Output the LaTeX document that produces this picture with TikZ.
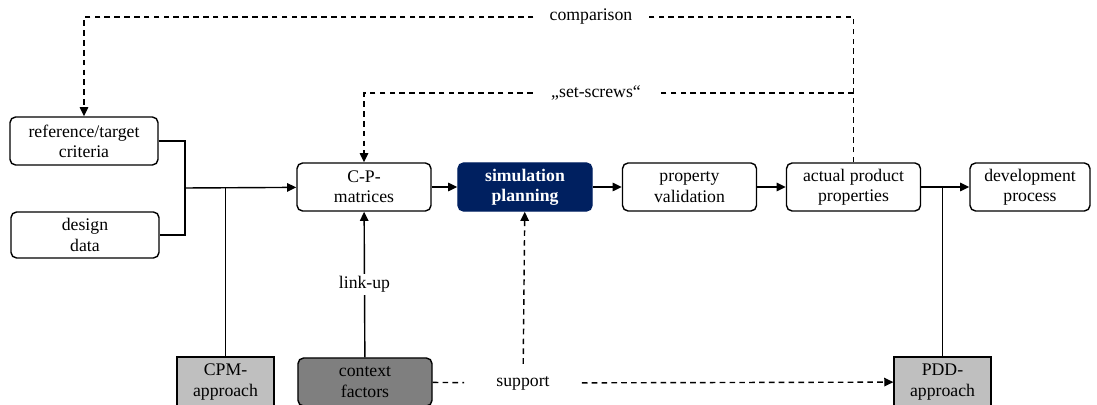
\documentclass[tikz,border=0pt]{standalone}
\usepackage{fontspec}
\setmainfont{Liberation Serif}
\usepackage{xcolor}
\usepackage{tikz}
\usetikzlibrary{arrows.meta,positioning}

\definecolor{navy}{HTML}{002060}
\definecolor{lightgr}{HTML}{BFBFBF}
\definecolor{darkgr}{HTML}{7F7F7F}

\begin{document}
\begin{tikzpicture}[
    x=0.025cm, y=-0.025cm,
    font=\fontsize{12.6}{14.4}\selectfont,
    box/.style={rectangle, draw, rounded corners=4pt, line width=1pt, minimum width=3.35cm, minimum height=1.2cm, align=center, inner sep=1pt},
    hilite/.style={box, fill=navy, draw=navy, text=white, font=\fontsize{12.6}{14.4}\selectfont\bfseries},
    approach/.style={rectangle, draw, line width=1pt, fill=lightgr, minimum width=2.42cm, minimum height=1.25cm, align=center, inner sep=1pt},
    factor/.style={box, fill=darkgr},
    lbl/.style={fill=white, inner ysep=2pt},
    arrow/.style={-{Triangle[length=6.5pt,width=6pt]}, line width=1pt},
    line/.style={line width=1pt},
    dashline/.style={line width=1pt, dash pattern=on 4pt off 3pt},
    dasharrow/.style={dashline, -{Triangle[length=6.5pt,width=6pt]}}
]
\useasboundingbox (0,0) rectangle (1097,405);

% input boxes
\node[box, minimum width=3.7cm] (crit) at (84,141) {reference/target\\criteria};
\node[box, minimum width=3.7cm, minimum height=1.15cm] (design) at (85,235) {design\\data};

% main row
\node[box] (cpmat) at (364,187) {C-P-\\matrices};
\node[hilite] (sim) at (525,187) {simulation\\planning};
\node[box] (valid) at (689.5,187) {property\\validation};
\node[box] (actual) at (853.5,187) {actual product\\properties};
\node[box, minimum width=3cm] (devel) at (1030,187) {development\\process};

% bottom row
\node[approach] (cpm) at (225.5,382) {CPM-\\approach};
\node[factor] (ctx) at (365,382) {context\\factors};
\node[approach] (pdd) at (942.5,382) {PDD-\\approach};

% labels on dashed lines
\node[inner xsep=0.8cm, inner ysep=0.3cm] (support) at (523,383) {support};
\node[inner xsep=0.4cm] (cmp) at (591,17) {comparison};
\node[inner xsep=0.45cm] (screws) at (596,93) {„set-screws“};

\coordinate (j1) at (185,188);

\draw[line] (crit.east) -| (j1) |- (design.east);
\draw[arrow] (j1) -- (cpmat);
\draw[line] (cpm) -- (cpm |- j1);

\draw[arrow] (cpmat) -- (sim);
\draw[arrow] (sim) -- (valid);
\draw[arrow] (valid) -- (actual);
\draw[arrow] (actual) -- (devel);
\draw[line] (pdd) -- (pdd |- actual);

\draw[arrow] (ctx) -- node[lbl]{link-up} (cpmat);
\draw[dasharrow] (support) -- (sim);
\draw[dashline] (ctx) -- (support);
\draw[dasharrow] (support) -- (pdd);

\draw[dashline] (actual.north) |- (cmp);
\draw[dasharrow] (cmp) -| (crit.north);
\draw[dashline] (actual.north |- screws) -- (screws);
\draw[dasharrow] (screws) -| (cpmat.north);

\end{tikzpicture}
\end{document}
